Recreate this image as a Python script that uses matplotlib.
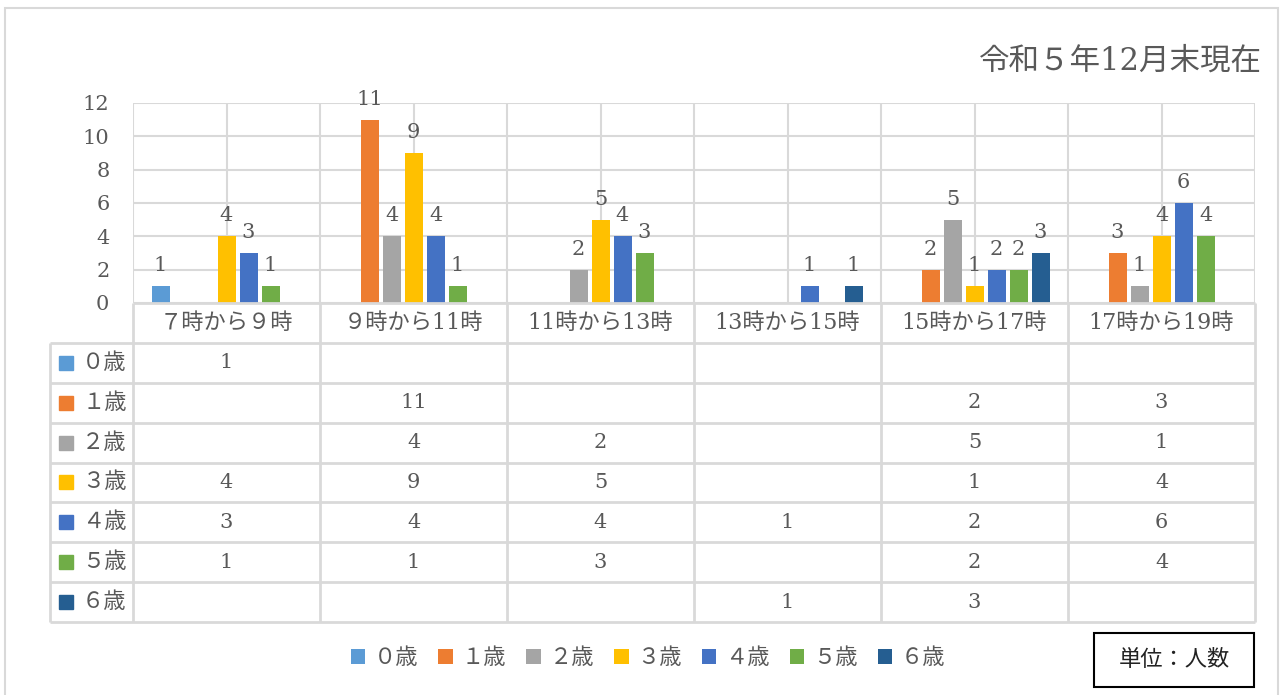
import numpy as np
import matplotlib
matplotlib.use("Agg")
import matplotlib.pyplot as plt
from matplotlib.patches import Rectangle

plt.rcParams['font.family'] = ['DejaVu Serif', 'Noto Sans CJK JP']

# data
categories = ["７時から９時", "９時から11時", "11時から13時", "13時から15時", "15時から17時", "17時から19時"]
ages = ["０歳", "１歳", "２歳", "３歳", "４歳", "５歳", "６歳"]
age0 = [1, None, None, None, None, None]
age1 = [None, 11, None, None, 2, 3]
age2 = [None, 4, 2, None, 5, 1]
age3 = [4, 9, 5, None, 1, 4]
age4 = [3, 4, 4, 1, 2, 6]
age5 = [1, 1, 3, None, 2, 4]
age6 = [None, None, None, 1, 3, None]
series = [age0, age1, age2, age3, age4, age5, age6]
colors = ["#5b9bd5", "#ed7d31", "#a5a5a5", "#ffc000", "#4472c4", "#70ad47", "#255e91"]
title = "令和５年12月末現在"
unit = "単位：人数"

W, H = 1283, 695
txt = "#595959"
grid = "#d9d9d9"

def fx(px):
    return px / W

def fy(py):
    return 1 - py / H

fig = plt.figure(figsize=(W / 100, H / 100), dpi=100)

# outer border
fig.add_artist(Rectangle((fx(5), fy(703)), fx(1273), (703 - 8) / H, transform=fig.transFigure,
                         fill=False, edgecolor=grid, lw=1.5))

# bar area
x0, x1, ytop, ybot = 133, 1255, 103, 303
ax = fig.add_axes([fx(x0), fy(ybot), fx(x1 - x0), (ybot - ytop) / H])
ax.set_xlim(0, 6)
ax.set_ylim(0, 12)
xs = np.arange(len(categories)) + 0.5
step = 22 / 187
bw = 18 / 187
handles = []
for i, (vals, c) in enumerate(zip(series, colors)):
    v = np.array([np.nan if a is None else a for a in vals], dtype=float)
    pos = xs + (i - 3) * step
    b = ax.bar(pos, v, width=bw, color=c, zorder=3, label=ages[i])
    handles.append(b)
    for p, val in zip(pos, vals):
        if val is not None:
            ax.annotate(str(val), (p, val), xytext=(0, 8), textcoords="offset points",
                        ha="center", va="bottom", fontsize=15, color=txt)

ax.set_yticks(range(0, 13, 2))
ax.set_xticks(np.arange(0, 6.01, 0.5))
ax.tick_params(axis="x", length=0, labelbottom=False)
ax.tick_params(axis="y", length=0, labelsize=15, labelcolor=txt, pad=17)
ax.grid(True, color=grid, lw=1.5, zorder=0)
for s in ax.spines.values():
    s.set_visible(False)

# data table
hx = 50
tab = fig.add_axes([fx(hx), fy(622), fx(x1 - hx), (622 - ybot) / H])
tab.set_xlim(-(x0 - hx) / 187, 6)
tab.set_ylim(8, 0)
tab.axis("off")
left = -(x0 - hx) / 187
tab.hlines(range(0, 9), [0] + [left] * 8, 6, color=grid, lw=2, clip_on=False)
tab.vlines(range(0, 7), 0, 8, color=grid, lw=2, clip_on=False)
tab.vlines(left, 1, 8, color=grid, lw=2, clip_on=False)

for j, cat in enumerate(categories):
    tab.text(j + 0.5, 0.5, cat, ha="center", va="center", fontsize=16, color=txt)

for i, (vals, c) in enumerate(zip(series, colors)):
    r = i + 1.5
    tab.add_patch(Rectangle((left + 9 / 187, r - 7 / 40), 14 / 187, 14 / 40, color=c, clip_on=False))
    tab.text(left + 32 / 187, r, ages[i], ha="left", va="center", fontsize=16, color=txt)
    for j, val in enumerate(vals):
        if val is not None:
            tab.text(j + 0.5, r, str(val), ha="center", va="center", fontsize=15, color=txt)

# title
fig.text(fx(1262), fy(61), title, ha="right", va="center", fontsize=22, color=txt)

# legend
fig.legend(handles=handles, labels=ages, loc="center", bbox_to_anchor=(fx(648), fy(658)),
           ncol=7, frameon=False, fontsize=16, labelcolor=txt, handlelength=0.65,
           handleheight=0.65, handletextpad=0.4, columnspacing=0.9)

# unit box
fig.add_artist(Rectangle((fx(1094), fy(687)), fx(160), 54 / H, transform=fig.transFigure,
                         fill=False, edgecolor="black", lw=1.5))
fig.text(fx(1174), fy(660), unit, ha="center", va="center", fontsize=16, color="#222222")

fig.savefig("out.png", dpi=100)
